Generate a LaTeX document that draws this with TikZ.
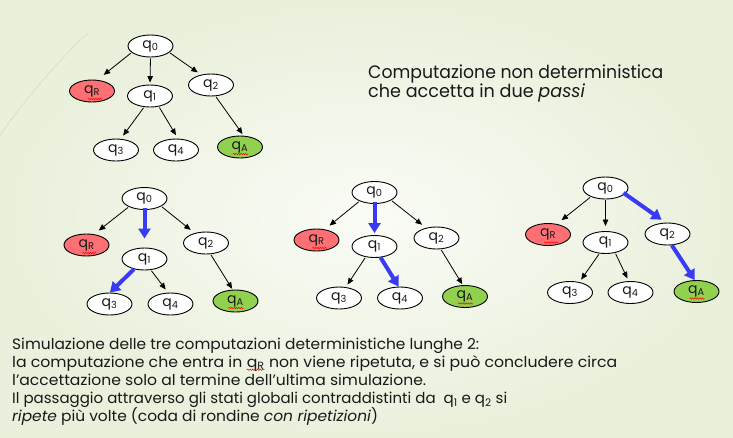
\documentclass[tikz,border=0pt]{standalone}
\usepackage{fontspec}
\usepackage{graphicx}
\setmainfont{Poppins}
\usetikzlibrary{arrows.meta,shapes.geometric,decorations.pathmorphing}

\definecolor{bgin}{RGB}{250,252,246}
\definecolor{bgout}{RGB}{233,240,219}
\definecolor{arcline}{RGB}{214,220,200}
\definecolor{rejfill}{RGB}{255,112,116}
\definecolor{accfill}{RGB}{146,208,80}
\definecolor{pathblue}{RGB}{58,58,245}
\definecolor{txt}{RGB}{25,25,25}

\tikzset{
  state/.style={draw=black, line width=0.9pt, ellipse, minimum width=45pt,
    minimum height=22pt, inner sep=0pt, fill=white, text=txt,
    font=\fontsize{14}{14}\selectfont},
  rej/.style={state, fill=rejfill},
  acc/.style={state, fill=accfill},
  edge/.style={-{Triangle[length=6.5pt,width=5.5pt]}, line width=0.8pt, draw=black,
    shorten >=3pt, shorten <=1pt},
  chosen/.style={-{Triangle[length=10pt,width=12pt]}, line width=4pt,
    draw=pathblue, shorten >=0pt},
  squiggle/.style={draw=red, line width=0.5pt, decorate,
    decoration={snake, amplitude=0.7pt, segment length=2.4pt}},
  caption/.style={anchor=base west, inner sep=0pt, text=txt,
    font=\fontsize{15}{18}\selectfont},
  heading/.style={anchor=base west, inner sep=0pt, text=txt,
    font=\fontsize{18}{20}\selectfont},
}

% word flagged by the spell checker: red wavy underline
\newcommand\spellq[1]{\tikz[baseline=(sqw.base)]{\node[inner sep=0pt,outer sep=0pt] (sqw) {#1};
  \draw[squiggle] ([yshift=-2.5pt]sqw.base west) -- ([yshift=-2.5pt]sqw.base east);}}

% set a line of text to a given width (in pt) by stretching it horizontally
\newsavebox\fitbox
\newcommand\fitto[2]{\sbox\fitbox{#2}%
  \pgfmathsetmacro\fitratio{#1/\the\wd\fitbox}%
  \scalebox{\fitratio}[1]{\usebox\fitbox}}

\begin{document}
\begin{tikzpicture}[x=1pt,y=-1pt]
\useasboundingbox (0,0) rectangle (733,437);
\shade[inner color=bgin, outer color=bgout] (0,0) rectangle (733,437);
\draw[arcline, line width=0.6pt] (88,33) .. controls (60,58) and (25,100) .. (0,135);

% ---- nondeterministic computation tree ----
\node[state] (a0) at (150.5,46) {q\textsubscript{0}};
\node[rej]   (aR) at (92,91)    {q\textsubscript{R}};
\node[state] (a1) at (150,96)   {q\textsubscript{1}};
\node[state] (a2) at (211,85)   {q\textsubscript{2}};
\node[state] (a3) at (116,150)  {q\textsubscript{3}};
\node[state] (a4) at (176,150)  {q\textsubscript{4}};
\node[acc]   (aA) at (240,147)  {q\textsubscript{A}};
\draw[edge, shorten >=8pt] (a0.199) -- (aR.64);
\draw[edge, shorten >=2pt] (a0.270) -- (a1.90);
\draw[edge, shorten >=4pt] (a0.-19) -- (a2.134);
\draw[edge, shorten >=4pt] (a1.242) -- (a3.67);
\draw[edge, shorten >=4pt] (a1.-50) -- (a4.80);
\draw[edge, shorten >=2pt] (a2.-68) -- (aA.72);
\draw[squiggle] ([xshift=-4pt,yshift=-8pt]aR.center) -- ([xshift=10pt,yshift=-8pt]aR.center);
\draw[squiggle] ([xshift=-7pt,yshift=-7pt]aA.center) -- ([xshift=8pt,yshift=-7pt]aA.center);

\node[heading] (h1) at (368,78.3) {\fitto{295}{Computazione non deterministica}};
\node[heading] (h2) at (368,97.7) {\fitto{217}{che accetta in due \textit{passi}}};

% ---- first deterministic run: q0, q1, q3 ----
\node[state] (b0) at (144.5,198.5) {q\textsubscript{0}};
\node[rej]   (bR) at (86.5,245)    {q\textsubscript{R}};
\node[state] (b1) at (144.5,259)   {q\textsubscript{1}};
\node[state] (b2) at (206,243)     {q\textsubscript{2}};
\node[state] (b3) at (109.5,304)   {q\textsubscript{3}};
\node[state] (b4) at (170.5,304)   {q\textsubscript{4}};
\node[acc]   (bA) at (235.5,301)   {q\textsubscript{A}};
\draw[edge, shorten >=6pt] (b0.208) -- (bR.55);
\draw[chosen, shorten >=9pt, shorten <=-2pt] (b0.270) -- (b1.90);
\draw[edge, shorten >=5pt] (b0.-25) -- (b2.139);
\draw[chosen] (b1.224) -- (b3.88);
\draw[edge, shorten >=4pt] (b1.-60) -- (b4.102);
\draw[edge, shorten >=1pt] (b2.-68) -- (bA.104);
\draw[squiggle] ([xshift=-4pt,yshift=-8pt]bR.center) -- ([xshift=10pt,yshift=-8pt]bR.center);
\draw[squiggle] ([xshift=-7pt,yshift=-7pt]bA.center) -- ([xshift=8pt,yshift=-7pt]bA.center);

% ---- second deterministic run: q0, q1, q4 ----
\node[state] (c0) at (374.5,192.5) {q\textsubscript{0}};
\node[rej]   (cR) at (316.5,240)   {q\textsubscript{R}};
\node[state] (c1) at (374.5,246.5) {q\textsubscript{1}};
\node[state] (c2) at (436.5,238)   {q\textsubscript{2}};
\node[state] (c3) at (339,298)     {q\textsubscript{3}};
\node[state] (c4) at (400,298)     {q\textsubscript{4}};
\node[acc]   (cA) at (465,296.5)   {q\textsubscript{A}};
\draw[edge, shorten >=6pt] (c0.210) -- (cR.52);
\draw[chosen, shorten >=2pt, shorten <=-2pt] (c0.270) -- (c1.90);
\draw[edge, shorten >=5pt] (c0.-25) -- (c2.136);
\draw[edge, shorten >=3pt] (c1.230) -- (c3.58);
\draw[chosen] (c1.-61) -- (c4.97);
\draw[edge, shorten >=1pt] (c2.-69) -- (cA.101);
\draw[squiggle] ([xshift=-4pt,yshift=-8pt]cR.center) -- ([xshift=10pt,yshift=-8pt]cR.center);
\draw[squiggle] ([xshift=-7pt,yshift=-7pt]cA.center) -- ([xshift=8pt,yshift=-7pt]cA.center);

% ---- third deterministic run: q0, q2, qA ----
\node[state] (d0) at (605.5,188)   {q\textsubscript{0}};
\node[rej]   (dR) at (548,234.5)   {q\textsubscript{R}};
\node[state] (d1) at (605.5,242.5) {q\textsubscript{1}};
\node[state] (d2) at (667.5,234)   {q\textsubscript{2}};
\node[state] (d3) at (570,292.5)   {q\textsubscript{3}};
\node[state] (d4) at (630.5,292.5) {q\textsubscript{4}};
\node[acc]   (dA) at (696.5,291.5) {q\textsubscript{A}};
\draw[edge, shorten >=6pt] (d0.211) -- (dR.50);
\draw[edge, shorten >=5pt] (d0.270) -- (d1.90);
\draw[chosen, shorten >=5pt, shorten <=-2pt] (d0.-17) -- (d2.99);
\draw[edge, shorten >=3pt] (d1.241) -- (d3.48);
\draw[edge, shorten >=3pt] (d1.-47) -- (d4.99);
\draw[chosen] (d2.-69) -- (dA.99);
\draw[squiggle] ([xshift=-4pt,yshift=-8pt]dR.center) -- ([xshift=10pt,yshift=-8pt]dR.center);
\draw[squiggle] ([xshift=-7pt,yshift=-7pt]dA.center) -- ([xshift=8pt,yshift=-7pt]dA.center);

% ---- explanation ----
\node[caption] (l1) at (12,349)   {\fitto{467}{Simulazione delle tre computazioni deterministiche lunghe 2:}};
\node[caption] (l2) at (12,367.2) {\fitto{605}{la computazione che entra in \spellq{q\textsubscript{R}} non viene ripetuta, e si può concludere circa}};
\node[caption] (l3) at (12,385.4) {\fitto{414}{l’accettazione solo al termine dell’ultima simulazione.}};
\node[caption] (l4) at (12,403.6) {\fitto{495}{Il passaggio attraverso gli stati globali contraddistinti da~ q\textsubscript{1} e q\textsubscript{2} si}};
\node[caption] (l5) at (12,421.8) {\fitto{366}{\textit{ripete} più volte (coda di rondine \textit{con ripetizioni})}};
\end{tikzpicture}
\end{document}
